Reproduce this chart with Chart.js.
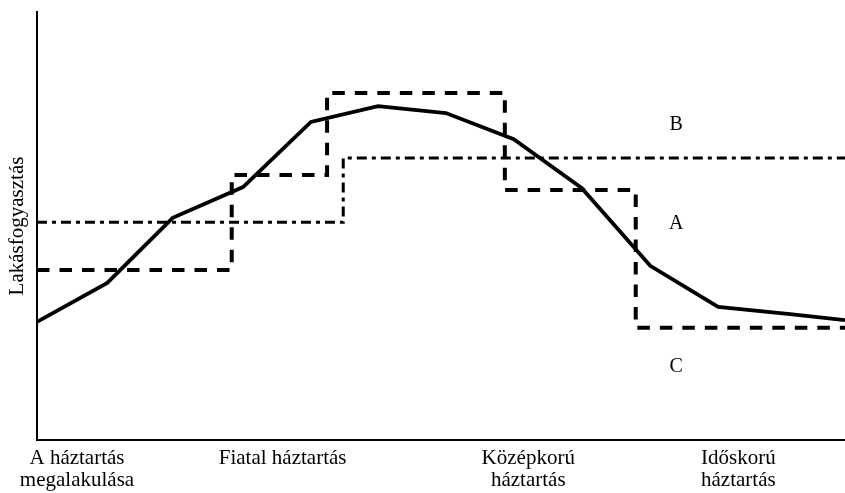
<!DOCTYPE html>
<html>
<head>
<meta charset="utf-8">
<script src="https://cdn.jsdelivr.net/npm/chart.js@4/dist/chart.umd.min.js"></script>
<style>
html,body{margin:0;padding:0;background:#fff;}
#wrap{width:845px;height:493px;}
</style>
</head>
<body>
<div id="wrap"><canvas id="c" width="845" height="493"></canvas></div>
<script>
// Household life-cycle stages (x positions on 0–100 scale) and labels
const stageLabels = [["A háztartás", "megalakulása"], "Fiatal háztartás", ["Középkorú", "háztartás"], ["Időskorú", "háztartás"]];
const stagePositions = [4.95, 30.4, 60.8, 86.8];

// Solid curve: actual housing consumption
const curveX = [0, 8.7, 16.8, 25.5, 33.9, 42.2, 50.6, 59.0, 67.4, 75.9, 84.3, 93.2, 100];
const curveY = [27.6, 36.7, 51.9, 59.1, 74.3, 78.0, 76.4, 70.3, 58.9, 40.7, 31.1, 29.4, 28.0];

// Dashed step line (A)
const stepAX = [0, 24.1, 35.9, 57.9, 74.1, 100];
const stepAY = [39.7, 61.9, 81.1, 58.4, 26.2, 26.2];

// Dash-dot step line (B)
const stepBX = [0, 37.9, 100];
const stepBY = [50.9, 65.9, 65.9];

// Region letters
const regionLetters = ["B", "A", "C"];
const regionX = [79.1, 79.1, 79.1];
const regionY = [73.6, 50.5, 17.1];

const yTitle = "Lakásfogyasztás";

const pts = (xs, ys) => xs.map((x, i) => ({x: x, y: ys[i]}));
const FONT = "'Liberation Serif', 'Times New Roman', serif";

const letterPlugin = {
  id: 'letters',
  afterDatasetsDraw(chart) {
    const ctx = chart.ctx, xs = chart.scales.x, ys = chart.scales.y;
    ctx.save();
    ctx.fillStyle = '#000';
    ctx.font = '20px ' + FONT;
    ctx.textAlign = 'center';
    ctx.textBaseline = 'middle';
    regionLetters.forEach((t, i) => {
      ctx.fillText(t, xs.getPixelForValue(regionX[i]), ys.getPixelForValue(regionY[i]));
    });
    ctx.restore();
  }
};

new Chart(document.getElementById('c'), {
  type: 'scatter',
  data: {
    datasets: [
      {
        data: pts(curveX, curveY),
        showLine: true,
        borderColor: '#000',
        borderWidth: 3.8,
        pointRadius: 0,
        borderJoinStyle: 'miter',
        tension: 0
      },
      {
        data: pts(stepAX, stepAY),
        showLine: true,
        stepped: 'before',
        borderColor: '#000',
        borderWidth: 4,
        borderDash: [12.5, 10],
        borderCapStyle: 'butt',
        pointRadius: 0
      },
      {
        data: pts(stepBX, stepBY),
        showLine: true,
        stepped: 'before',
        borderColor: '#000',
        borderWidth: 3,
        borderDash: [10, 5, 4, 5],
        borderCapStyle: 'butt',
        pointRadius: 0
      }
    ]
  },
  options: {
    responsive: false,
    animation: false,
    clip: false,
    layout: {padding: {top: 12, right: 0, left: 0, bottom: 0}},
    plugins: {legend: {display: false}, tooltip: {enabled: false}},
    scales: {
      x: {
        type: 'linear',
        min: 0, max: 100,
        grid: {display: false, drawTicks: false},
        border: {display: true, color: '#000', width: 2},
        afterBuildTicks: (axis) => { axis.ticks = stagePositions.map(v => ({value: v})); },
        afterFit: (axis) => { axis.height = 53; },
        ticks: {
          autoSkip: false,
          maxRotation: 0,
          padding: 7,
          color: '#000',
          font: {family: FONT, size: 21, lineHeight: 1.05},
          callback: (v, i) => stageLabels[i]
        }
      },
      y: {
        type: 'linear',
        min: 0, max: 100,
        grid: {display: false, drawTicks: false},
        border: {display: true, color: '#000', width: 2},
        ticks: {display: false},
        afterFit: (axis) => { axis.width = 37; },
        title: {
          display: true,
          text: yTitle,
          color: '#000',
          font: {family: FONT, size: 21},
          padding: {top: 5, bottom: 0}
        }
      }
    }
  },
  plugins: [letterPlugin]
});
</script>
</body>
</html>
